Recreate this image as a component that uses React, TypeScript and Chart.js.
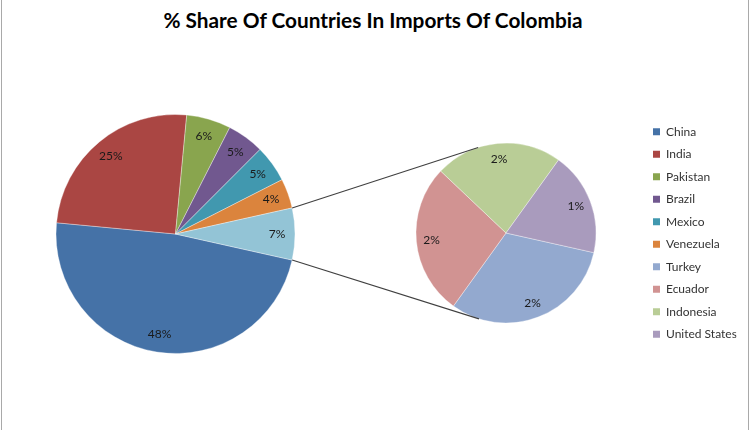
import React, { useEffect, useRef } from 'react';
import { Chart, registerables } from 'chart.js';

Chart.register(...registerables);

const TITLE = '% Share Of Countries In Imports Of Colombia';

// Main pie (values in % of total imports)
const mainLabels = ['China', 'India', 'Pakistan', 'Brazil', 'Mexico', 'Venezuela', 'Other'];
const mainValues = [48, 25, 6, 5, 5, 4, 7];
const mainColors = ['#4572A7', '#AA4643', '#89A54E', '#71588F', '#4198AF', '#DB843D', '#93C4D6'];

// Secondary pie: breakdown of "Other"
const subLabels = ['Turkey', 'Ecuador', 'Indonesia', 'United States'];
const subValues = [2.2, 1.9, 1.6, 1.3];
const subColors = ['#93A9CF', '#D19392', '#B9CD96', '#A99BBD'];

// Legend entries
const legendLabels = [...mainLabels.slice(0, 6), ...subLabels];
const legendColors = [...mainColors.slice(0, 6), ...subColors];

const LABEL_FONT = '12px Lato';
const LABEL_COLOR = '#1a1a1a';

function pctLabelPlugin(frac: number) {
  return {
    id: 'pctLabels',
    afterDatasetsDraw(chart: any) {
      const ctx = chart.ctx;
      const meta = chart.getDatasetMeta(0);
      const vals = chart.data.datasets[0].data as number[];
      ctx.save();
      ctx.font = LABEL_FONT;
      ctx.fillStyle = LABEL_COLOR;
      ctx.textAlign = 'center';
      ctx.textBaseline = 'middle';
      meta.data.forEach((arc: any, i: number) => {
        const p = arc.getProps(['x', 'y', 'startAngle', 'endAngle', 'outerRadius'], true);
        const a = (p.startAngle + p.endAngle) / 2;
        const r = p.outerRadius * frac;
        ctx.fillText(Math.round(vals[i]) + '%', p.x + Math.cos(a) * r, p.y + Math.sin(a) * r);
      });
      ctx.restore();
    },
  };
}

export default function App() {
  const mainRef = useRef<HTMLCanvasElement | null>(null);
  const subRef = useRef<HTMLCanvasElement | null>(null);

  useEffect(() => {
    if (!mainRef.current || !subRef.current) return;
    const total = mainValues.reduce((s, v) => s + v, 0);
    const otherShare = mainValues[mainValues.length - 1] / total;
    // center the "Other" slice on the right horizontal
    const rotation = 90 + otherShare * 180;

    const mainChart = new Chart(mainRef.current, {
      type: 'pie',
      data: {
        labels: mainLabels,
        datasets: [
          {
            data: mainValues,
            backgroundColor: mainColors,
            borderColor: 'rgba(255,255,255,0.35)',
            borderWidth: 1,
          },
        ],
      },
      options: {
        responsive: false,
        animation: false,
        events: [],
        rotation,
        radius: 119.5,
        layout: { padding: { left: 55, right: 454, top: 114, bottom: 76 } },
        plugins: {
          legend: { display: false },
          title: { display: false },
          tooltip: { enabled: false },
        },
      } as any,
      plugins: [pctLabelPlugin(0.85)],
    });

    const connectorPlugin = {
      id: 'connectors',
      afterDatasetsDraw(chart: any) {
        const am = mainChart.getDatasetMeta(0);
        const other: any = am.data[am.data.length - 1];
        const op = other.getProps(['x', 'y', 'startAngle', 'endAngle', 'outerRadius'], true);
        const sub: any = chart.getDatasetMeta(0).data[0];
        const sp = sub.getProps(['x', 'y', 'outerRadius'], true);
        const ctx = chart.ctx;
        ctx.save();
        ctx.strokeStyle = '#404040';
        ctx.lineWidth = 1.1;
        [op.startAngle, op.endAngle].forEach((ang: number, k: number) => {
          const px = op.x + op.outerRadius * Math.cos(ang);
          const py = op.y + op.outerRadius * Math.sin(ang);
          const dx = px - sp.x;
          const dy = py - sp.y;
          const d = Math.hypot(dx, dy);
          const base = Math.atan2(dy, dx);
          const off = Math.acos(sp.outerRadius / d);
          const t = k === 0 ? base + off : base - off;
          ctx.beginPath();
          ctx.moveTo(px, py);
          ctx.lineTo(sp.x + sp.outerRadius * Math.cos(t), sp.y + sp.outerRadius * Math.sin(t));
          ctx.stroke();
        });
        ctx.restore();
      },
    };

    const subChart = new Chart(subRef.current, {
      type: 'pie',
      data: {
        labels: subLabels,
        datasets: [
          {
            data: subValues,
            backgroundColor: subColors,
            borderColor: 'rgba(255,255,255,0.35)',
            borderWidth: 1,
          },
        ],
      },
      options: {
        responsive: false,
        animation: false,
        events: [],
        rotation,
        radius: 90,
        layout: { padding: { left: 369.5, right: 13.5, top: 36, bottom: 0 } },
        plugins: {
          title: { display: false },
          tooltip: { enabled: false },
          legend: {
            display: true,
            position: 'right',
            maxWidth: 94,
            onClick: () => {},
            labels: {
              boxWidth: 7,
              boxHeight: 7,
              padding: 10.5,
              color: '#333333',
              font: { family: 'Lato', size: 12 },
              generateLabels: () =>
                legendLabels.map((t, i) => ({
                  text: t,
                  fillStyle: legendColors[i],
                  strokeStyle: legendColors[i],
                  lineWidth: 0,
                  hidden: false,
                  index: i,
                  fontColor: '#333333',
                })),
            },
          },
        },
      } as any,
      plugins: [connectorPlugin, pctLabelPlugin(0.83)],
    });

    return () => {
      subChart.destroy();
      mainChart.destroy();
    };
  }, []);

  const full: React.CSSProperties = { position: 'absolute', left: 0, top: 0, display: 'block' };

  return (
    <div
      style={{
        position: 'absolute',
        left: 0,
        top: 0,
        width: 750,
        height: 430,
        background: '#ffffff',
        overflow: 'hidden',
      }}
    >
      <div style={{ position: 'absolute', left: 1, top: 0, width: 1, height: 430, background: '#a9a9a9' }} />
      <div style={{ position: 'absolute', left: 748, top: 0, width: 1, height: 430, background: '#a9a9a9' }} />
      <div
        style={{
          position: 'absolute',
          left: 0,
          top: 7,
          width: 746,
          textAlign: 'center',
          fontFamily: 'Lato, sans-serif',
          fontWeight: 700,
          fontSize: 20.8,
          lineHeight: '26px',
          color: '#000',
          whiteSpace: 'nowrap',
        }}
      >
        {TITLE}
      </div>
      <canvas ref={mainRef} width={750} height={430} style={full} />
      <canvas ref={subRef} width={750} height={430} style={full} />
    </div>
  );
}
